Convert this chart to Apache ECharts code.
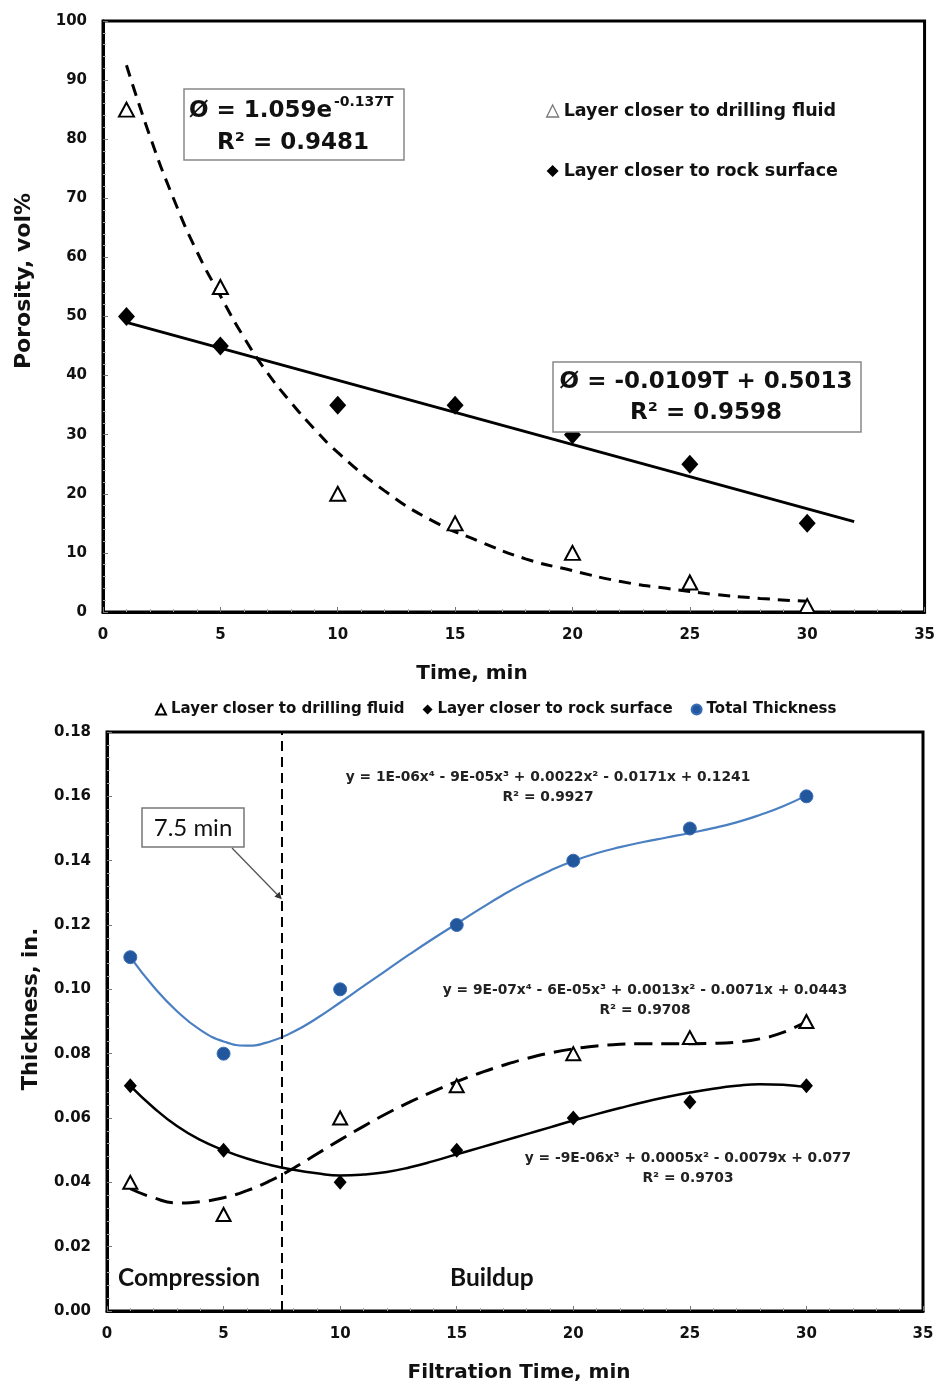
<!DOCTYPE html>
<html><head><meta charset="utf-8">
<script src="https://cdn.jsdelivr.net/npm/echarts@6/dist/echarts.min.js"></script>
<style>html,body{margin:0;padding:0;background:#fff}#c{width:938px;height:1387px}</style>
</head><body><div id="c"></div>
<script>
// ---------- data ----------
const timeMin = [1, 5, 10, 15, 20, 25, 30];
// top chart: porosity, vol%
const porosityDrillingFluid = [85, 55, 20, 15, 10, 5, 1];
const porosityRockSurface = [50, 45, 35, 35, 30, 25, 15];
// exponential trendline as drawn
const expFitT = [1, 2, 3, 4, 5, 6, 7, 8, 9, 10, 12, 14, 16, 18, 20, 22, 24, 26, 28, 30];
const expFitPorosity = [92.5, 80.5, 70, 61, 53.5, 46.5, 40.5, 35.5, 31, 27, 20.5, 15.5, 12, 9, 7, 5.2, 4, 3, 2.3, 1.8];
// linear trendline as drawn
const linFitT = [1, 32];
const linFitPorosity = [49.0, 15.3];

// bottom chart: thickness, in.
const thicknessDrillingFluid = [0.04, 0.03, 0.06, 0.07, 0.08, 0.085, 0.09];
const thicknessRockSurface = [0.07, 0.05, 0.04, 0.05, 0.06, 0.065, 0.07];
const thicknessTotal = [0.11, 0.08, 0.10, 0.12, 0.14, 0.15, 0.16];
// polynomial trendlines as drawn (read at every minute)
const fitT = [1, 2, 3, 4, 5, 6, 7, 8, 9, 10, 11, 12, 13, 14, 15, 16, 17, 18, 19, 20, 21, 22, 23, 24, 25, 26, 27, 28, 29, 30];
const totalFitV = [0.1100, 0.1008, 0.0932, 0.0874, 0.0838, 0.0825, 0.0838, 0.0868, 0.0910, 0.0959,
                   0.1010, 0.1060, 0.1110, 0.1158, 0.1204, 0.1250, 0.1294, 0.1334, 0.1369, 0.1399,
                   0.1423, 0.1442, 0.1458, 0.1472, 0.1486, 0.1501, 0.1519, 0.1542, 0.1569, 0.1603];
const fluidFitV = [0.0380, 0.0352, 0.0336, 0.0340, 0.0352, 0.0374, 0.0405, 0.0444, 0.0488, 0.0532,
                   0.0574, 0.0614, 0.0650, 0.0683, 0.0713, 0.0740, 0.0764, 0.0785, 0.0802, 0.0815,
                   0.0824, 0.0829, 0.0831, 0.0831, 0.0831, 0.0832, 0.0836, 0.0846, 0.0866, 0.0900];
const rockFitV = [0.0700, 0.0632, 0.0575, 0.0532, 0.0500, 0.0474, 0.0454, 0.0439, 0.0428, 0.0421,
                  0.0424, 0.0432, 0.0447, 0.0466, 0.0487, 0.0508, 0.0529, 0.0550, 0.0571, 0.0592,
                  0.0612, 0.0631, 0.0649, 0.0665, 0.0679, 0.0691, 0.0700, 0.0705, 0.0703, 0.0696];
const compressionEndMin = 7.5;

// tick settings
const xTicksTop = {min: 0, max: 35, interval: 5};
const yTicksTop = {min: 0, max: 100, interval: 10};
const xTicksBot = {min: 0, max: 35, interval: 5};
const yTicksBot = {min: 0, max: 0.18, interval: 0.02};

// ---------- helpers ----------
const zip = (a, b) => a.map((v, i) => [v, b[i]]);
const F = 'DejaVu Sans';
const NAME_FLUID = 'Layer closer to drilling fluid';
const NAME_ROCK = 'Layer closer to rock surface';
const NAME_TOTAL = 'Total Thickness';

function axisCfg(grid, t, fmt) {
  return {
    gridIndex: grid, type: 'value', min: t.min, max: t.max, interval: t.interval,
    axisLine: {show: true, onZero: false, lineStyle: {color: '#000', width: 3}},
    axisTick: {show: true, inside: true, length: 5, lineStyle: {color: '#777'}},
    minorTick: {show: true, splitNumber: 5, length: 3, lineStyle: {color: '#aaa'}},
    splitLine: {show: false},
    axisLabel: {color: '#111', fontFamily: F, fontWeight: 'bold', fontSize: 15, margin: 16, formatter: fmt}
  };
}

const chart = echarts.init(document.getElementById('c'), null, {renderer: 'canvas'});

const option = {
  animation: false,
  backgroundColor: '#fff',
  grid: [
    {left: 103, top: 21, width: 822, height: 591, show: true, borderColor: '#000', borderWidth: 3},
    {left: 107, top: 732, width: 816, height: 579, show: true, borderColor: '#000', borderWidth: 3}
  ],
  xAxis: [axisCfg(0, xTicksTop), axisCfg(1, xTicksBot)],
  yAxis: [axisCfg(0, yTicksTop, v => String(v)), axisCfg(1, yTicksBot, v => v.toFixed(2))],
  legend: [
    {
      data: [{name: NAME_FLUID, itemStyle: {borderColor: '#777', borderWidth: 1.3}}, {name: NAME_ROCK}],
      orient: 'vertical', left: 541, top: 97,
      itemGap: 42, itemWidth: 12, itemHeight: 12, selectedMode: false,
      textStyle: {color: '#111', fontFamily: F, fontWeight: 'bold', fontSize: 17.5}
    },
    {
      data: [NAME_FLUID, NAME_ROCK, NAME_TOTAL], orient: 'horizontal', left: 150, top: 697,
      itemGap: 18, itemWidth: 10, itemHeight: 10, selectedMode: false,
      textStyle: {color: '#111', fontFamily: F, fontWeight: 'bold', fontSize: 15}
    }
  ],
  series: [
    // ---- top chart ----
    {
      name: 'expFit', type: 'line', xAxisIndex: 0, yAxisIndex: 0, data: zip(expFitT, expFitPorosity),
      smooth: true, showSymbol: false, silent: true, z: 2,
      lineStyle: {color: '#000', width: 3, type: [12, 8]}
    },
    {
      name: 'linFit', type: 'line', xAxisIndex: 0, yAxisIndex: 0, data: zip(linFitT, linFitPorosity),
      showSymbol: false, silent: true, z: 2,
      lineStyle: {color: '#000', width: 3}
    },
    {
      name: NAME_FLUID, type: 'scatter', xAxisIndex: 0, yAxisIndex: 0, data: zip(timeMin, porosityDrillingFluid),
      symbol: 'triangle', symbolSize: [15, 14], z: 5,
      itemStyle: {color: '#fff', borderColor: '#000', borderWidth: 2, opacity: 1}
    },
    {
      name: NAME_ROCK, type: 'scatter', xAxisIndex: 0, yAxisIndex: 0, data: zip(timeMin, porosityRockSurface),
      symbol: 'diamond', symbolSize: [17, 19], z: 5,
      itemStyle: {color: '#000', opacity: 1}
    },
    // ---- bottom chart ----
    {
      name: 'totalFit', type: 'line', xAxisIndex: 1, yAxisIndex: 1, data: zip(fitT, totalFitV),
      smooth: 0.5, showSymbol: false, silent: true, z: 2,
      lineStyle: {color: '#4a7fc1', width: 2.2}
    },
    {
      name: 'fluidFit', type: 'line', xAxisIndex: 1, yAxisIndex: 1, data: zip(fitT, fluidFitV),
      smooth: 0.5, showSymbol: false, silent: true, z: 2,
      lineStyle: {color: '#000', width: 3, type: [18, 9]}
    },
    {
      name: 'rockFit', type: 'line', xAxisIndex: 1, yAxisIndex: 1, data: zip(fitT, rockFitV),
      smooth: 0.5, showSymbol: false, silent: true, z: 2,
      lineStyle: {color: '#000', width: 2.5},
      markLine: {
        silent: true, symbol: 'none', label: {show: false},
        lineStyle: {color: '#000', width: 2, type: [10, 6]},
        data: [{xAxis: compressionEndMin}]
      }
    },
    {
      name: NAME_FLUID + ' ', type: 'scatter', xAxisIndex: 1, yAxisIndex: 1, data: zip(timeMin, thicknessDrillingFluid),
      symbol: 'triangle', symbolSize: [14, 13], z: 5,
      itemStyle: {color: '#fff', borderColor: '#000', borderWidth: 2, opacity: 1}
    },
    {
      name: NAME_ROCK + ' ', type: 'scatter', xAxisIndex: 1, yAxisIndex: 1, data: zip(timeMin, thicknessRockSurface),
      symbol: 'diamond', symbolSize: [13, 15], z: 5,
      itemStyle: {color: '#000', opacity: 1}
    },
    {
      name: NAME_TOTAL, type: 'scatter', xAxisIndex: 1, yAxisIndex: 1, data: zip(timeMin, thicknessTotal),
      symbol: 'circle', symbolSize: 13, z: 5,
      itemStyle: {color: '#22579e', borderColor: '#3b6fb5', borderWidth: 1, opacity: 1}
    }
  ]
};
chart.setOption(option);

// ---------- annotations ----------
const tip = chart.convertToPixel({gridIndex: 1}, [compressionEndMin, 0.128]);
const from = [232, 848];
const ang = Math.atan2(tip[1] - from[1], tip[0] - from[0]);
const ah = 7, aw = 3.5;
const back = [tip[0] - ah * Math.cos(ang), tip[1] - ah * Math.sin(ang)];
const arrowHead = [
  tip,
  [back[0] + aw * Math.sin(ang), back[1] - aw * Math.cos(ang)],
  [back[0] - aw * Math.sin(ang), back[1] + aw * Math.cos(ang)]
];

const big = {fontFamily: F, fontWeight: 'bold', fontSize: 23, fill: '#111'};
const eq = {fontFamily: F, fontWeight: 'bold', fontSize: 13.8, fill: '#222', align: 'center', verticalAlign: 'middle', lineHeight: 20};
const title = {fontFamily: F, fontWeight: 'bold', fill: '#111', align: 'center', verticalAlign: 'middle'};

chart.setOption({
  graphic: [
    // axis titles
    {type: 'text', z: 11, style: Object.assign({x: 472, y: 674, text: 'Time, min', fontSize: 20}, title)},
    {type: 'text', z: 11, x: 24, y: 281, rotation: Math.PI / 2, style: Object.assign({x: 0, y: 0, text: 'Porosity, vol%', fontSize: 22}, title)},
    {type: 'text', z: 11, style: Object.assign({x: 519, y: 1373, text: 'Filtration Time, min', fontSize: 20}, title)},
    {type: 'text', z: 11, x: 32, y: 1009, rotation: Math.PI / 2, style: Object.assign({x: 0, y: 0, text: 'Thickness, in.', fontSize: 21}, title)},
    // top: exponential fit box
    {type: 'rect', z: 10, shape: {x: 184, y: 89, width: 220, height: 71}, style: {fill: '#fff', stroke: '#888', lineWidth: 1.5}},
    {type: 'text', z: 11, style: Object.assign({x: 189, y: 111, text: 'Ø = 1.059e', align: 'left', verticalAlign: 'middle'}, big)},
    {type: 'text', z: 11, style: {x: 334, y: 102, text: '-0.137T', align: 'left', verticalAlign: 'middle', fontFamily: F, fontWeight: 'bold', fontSize: 14, fill: '#111'}},
    {type: 'text', z: 11, style: Object.assign({x: 293, y: 143, text: 'R² = 0.9481', align: 'center', verticalAlign: 'middle'}, big)},
    // top: linear fit box
    {type: 'rect', z: 10, shape: {x: 553, y: 362, width: 308, height: 70}, style: {fill: '#fff', stroke: '#888', lineWidth: 1.5}},
    {type: 'text', z: 11, style: Object.assign({x: 706, y: 382, text: 'Ø = -0.0109T + 0.5013', align: 'center', verticalAlign: 'middle'}, big)},
    {type: 'text', z: 11, style: Object.assign({x: 706, y: 413, text: 'R² = 0.9598', align: 'center', verticalAlign: 'middle'}, big)},
    // bottom: 7.5 min box and arrow
    {type: 'rect', z: 10, shape: {x: 142, y: 808, width: 102, height: 39}, style: {fill: '#fff', stroke: '#777', lineWidth: 1.5}},
    {type: 'text', z: 11, style: {x: 193, y: 828, text: '7.5 min', align: 'center', verticalAlign: 'middle', fontFamily: 'Lato', fontSize: 24, fill: '#111'}},
    {type: 'line', z: 11, shape: {x1: from[0], y1: from[1], x2: back[0], y2: back[1]}, style: {stroke: '#555', lineWidth: 1.3}},
    {type: 'polygon', z: 11, shape: {points: arrowHead}, style: {fill: '#333'}},
    // bottom: trendline equations
    {type: 'text', z: 11, style: Object.assign({x: 548, y: 787, text: 'y = 1E-06x⁴ - 9E-05x³ + 0.0022x² - 0.0171x + 0.1241\nR² = 0.9927'}, eq)},
    {type: 'text', z: 11, style: Object.assign({x: 645, y: 1000, text: 'y = 9E-07x⁴ - 6E-05x³ + 0.0013x² - 0.0071x + 0.0443\nR² = 0.9708'}, eq)},
    {type: 'text', z: 11, style: Object.assign({x: 688, y: 1168, text: 'y = -9E-06x³ + 0.0005x² - 0.0079x + 0.077\nR² = 0.9703'}, eq)},
    // bottom: region labels
    {type: 'text', z: 11, style: {x: 118, y: 1278, text: 'Compression', align: 'left', verticalAlign: 'middle', fontFamily: 'Lato', fontWeight: 'bold', fontSize: 24.5, fill: '#111'}},
    {type: 'text', z: 11, style: {x: 450, y: 1278, text: 'Buildup', align: 'left', verticalAlign: 'middle', fontFamily: 'Lato', fontWeight: 'bold', fontSize: 24.5, fill: '#111'}}
  ]
});
</script></body></html>
